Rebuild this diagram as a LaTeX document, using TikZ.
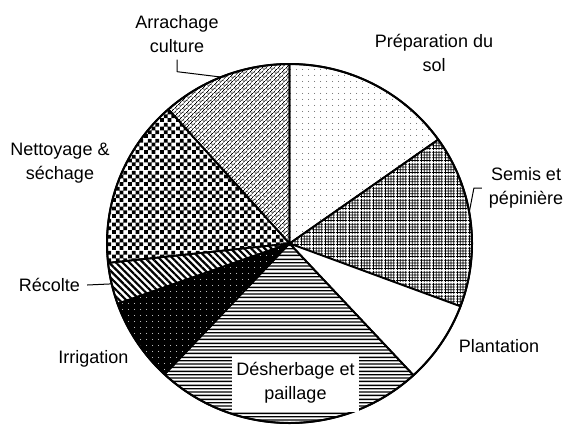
\documentclass[tikz,border=0pt]{standalone}
\usepackage{fontspec}
\setmainfont{Liberation Sans}
\usetikzlibrary{patterns,patterns.meta}

\tikzdeclarepattern{
  name=sparsedots, type=uncolored,
  bottom left={(0pt,0pt)}, top right={(3pt,3pt)},
  tile size={(3pt,3pt)},
  code={\fill (1.5pt,1.5pt) circle (.25pt);}
}
\tikzdeclarepattern{
  name=finegrid, type=uncolored,
  bottom left={(0pt,0pt)}, top right={(6pt,6pt)},
  tile size={(6pt,6pt)},
  code={\foreach \t in {.75,2.25,3.75,5.25}
          \draw[line width=.4pt] (0pt,\t pt) -- (6pt,\t pt) (\t pt,0pt) -- (\t pt,6pt);}
}
\tikzdeclarepattern{
  name=hlines, type=uncolored,
  bottom left={(0pt,0pt)}, top right={(60pt,6.8pt)},
  tile size={(60pt,6.8pt)},
  code={\foreach \t in {.85,2.55,4.25,5.95}
          \draw[line width=.7pt] (-1pt,\t pt) -- (61pt,\t pt);}
}
\tikzdeclarepattern{
  name=checker, type=uncolored,
  bottom left={(0pt,0pt)}, top right={(8pt,8pt)},
  tile size={(8pt,8pt)},
  code={\fill (0pt,0pt) rectangle (2pt,2pt) (2pt,2pt) rectangle (4pt,4pt)
              (4pt,0pt) rectangle (6pt,2pt) (6pt,2pt) rectangle (8pt,4pt)
              (0pt,4pt) rectangle (2pt,6pt) (2pt,6pt) rectangle (4pt,8pt)
              (4pt,4pt) rectangle (6pt,6pt) (6pt,6pt) rectangle (8pt,8pt);}
}
\tikzdeclarepattern{
  name=diagbricks, type=uncolored,
  bottom left={(0pt,0pt)}, top right={(3pt,3pt)},
  tile size={(3pt,3pt)},
  tile transformation={rotate=45},
  code={\draw[line width=.3pt] (0pt,.75pt) -- (3pt,.75pt) (0pt,2.25pt) -- (3pt,2.25pt)
        (.75pt,.75pt) -- (.75pt,2.25pt) (2.25pt,2.25pt) -- (2.25pt,3pt) (2.25pt,0pt) -- (2.25pt,.75pt);}
}

\begin{document}
\begin{tikzpicture}[x=.5pt, y=.5pt, line join=round,
  lbl/.style={font=\fontsize{9}{12}\selectfont, align=center},
  leader/.style={line width=.5pt},
  prep/.style={pattern=sparsedots, pattern color=black!70},
  semis/.style={pattern=finegrid},
  plant/.style={fill=white},
  desh/.style={pattern=hlines},
  irrig/.style={preaction={fill=black}, pattern=sparsedots, pattern color=white},
  recol/.style={pattern={Lines[angle=-45,distance=2.4pt,line width=1.1pt]}},
  netto/.style={pattern=checker},
  arrach/.style={pattern=diagbricks}]
\useasboundingbox (0,0) rectangle (565,425);
\def\rx{91.25pt}\def\ry{89.75pt}
\coordinate (c) at (289.5,181.5);
% slices
\foreach \a/\b/\s in {35.4/90/prep, -20.5/35.4/semis, -47.2/-20.5/plant, -133.2/-47.2/desh,
                      199.6/226.8/irrig, 186.2/199.6/recol, 131.6/186.2/netto, 90/131.6/arrach}{
  \draw[line width=.9pt, \s] (c) -- ++(\a:{\rx} and {\ry}) arc[start angle=\a, end angle=\b, x radius=\rx, y radius=\ry] -- cycle;}
\draw[line width=1pt] (c) ellipse[x radius=\rx, y radius=\ry];
\path (c) ++(10:{\rx} and {\ry}) coordinate (semisEdge);
\path (c) ++(193:{\rx} and {\ry}) coordinate (recolEdge);
\path (c) ++(112:{\rx} and {\ry}) coordinate (arrachEdge);
% labels
\node[lbl] (prepLabel) at (434,372) {Préparation du\\sol};
\node[lbl] (semisLabel) at (526,237) {Semis et\\pépinière};
\node[lbl] (plantLabel) at (499,79) {Plantation};
\node[lbl, fill=white, inner xsep=2pt, inner ysep=4pt] (deshLabel) at (295.5,42) {Désherbage et\\paillage};
\node[lbl] (irrigLabel) at (93.5,66) {Irrigation};
\node[lbl] (recolLabel) at (49.5,140) {Récolte};
\node[lbl] (nettoLabel) at (60,261.5) {Nettoyage \&\\séchage};
\node[lbl] (arrachLabel) at (177,391) {Arrachage\\culture};
\draw[leader] (semisLabel.west) -- ++(-8,0) -- (semisEdge);
\draw[leader] (recolLabel.east) -- (recolEdge);
\draw[leader] (arrachLabel.south) -- ++(0,-12) -- (arrachEdge);
\end{tikzpicture}
\end{document}
